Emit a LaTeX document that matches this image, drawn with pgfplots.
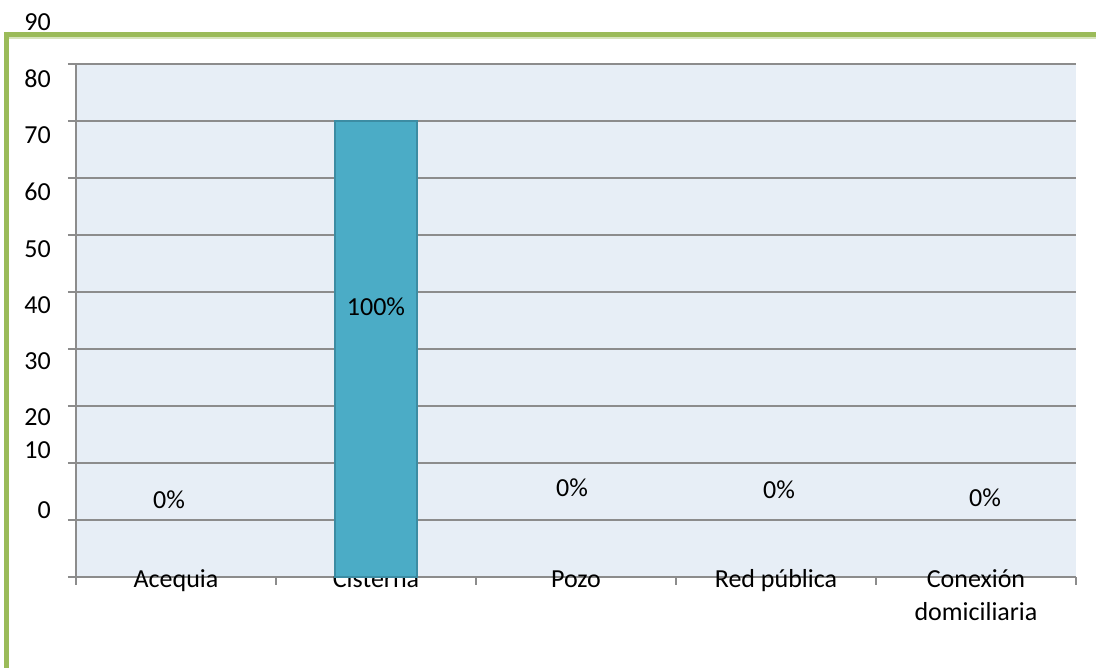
\documentclass[border=0pt]{standalone}
\usepackage{pgfplots}
\pgfplotsset{compat=1.18}
\usepackage{fontspec}
\setmainfont{Carlito}
\definecolor{grn}{RGB}{155,187,89}
\definecolor{grnlt}{RGB}{215,228,189}
\definecolor{plotbg}{RGB}{231,238,246}
\definecolor{barc}{RGB}{75,172,198}
\definecolor{bard}{RGB}{60,140,163}
\definecolor{gridc}{RGB}{140,140,140}

\begin{document}
\fontsize{26}{33}\selectfont
\begin{tikzpicture}
  \path[use as bounding box] (-76pt,-91pt) rectangle (1020pt,577pt);
  \begin{axis}[
      at={(0,0)}, anchor=south west,
      scale only axis, width=1000pt, height=513pt,
      xmin=-0.5, xmax=4.5, ymin=-10, ymax=80,
      clip=false,
      axis x line*=bottom, axis y line*=left,
      axis line style={gridc, line width=1.3pt},
      axis background/.style={fill=plotbg},
      xtick={0,...,4},
      xticklabels={Acequia, Cisterna, Pozo, Red pública,
        {\begin{tabular}[t]{@{}c@{}}Conexión\\domiciliaria\end{tabular}}},
      minor xtick={-0.5,0.5,...,4.5},
      ytick={1.75,12.3,18.1,27.9,37.7,47.5,57.5,67.5,77.5},
      yticklabels={0,10,20,30,40,50,60,70,80},
      minor ytick={-10,0,...,80},
      major tick length=0pt, minor tick length=8pt,
      tick align=outside,
      tick style={gridc, line width=1.3pt},
      yminorgrids,
      minor grid style={gridc, line width=1.3pt},
      yticklabel style={anchor=east, inner sep=0pt, xshift=-25pt},
      xticklabel style={anchor=base, inner sep=0pt, yshift=-11pt},
    ]

    % Cisterna bar, drawn from the bottom of the axis
    \addplot[fill=barc, draw=bard, line width=1.5pt]
      coordinates {(0.795,-10) (0.795,70) (1.205,70) (1.205,-10)} -- cycle;

    % data labels
    \addplot[draw=none, mark=none, nodes near coords, point meta=explicit symbolic,
      nodes near coords style={anchor=center, inner sep=0pt, text=black}]
      coordinates {
        (-0.035,3.5)[0\%] (1,37.5)[100\%] (1.98,5.6)[0\%]
        (3.015,5.3)[0\%] (4.045,3.9)[0\%]
      };

    \node[anchor=east, inner sep=0pt, xshift=-25pt] at (axis cs:-0.5,87.4) {90};
  \end{axis}

  % green frame
  \draw[grnlt, line width=1.5pt] (-67pt,539pt) -- (1020pt,539pt);
  \draw[grn, line width=5pt] (-72pt,542.5pt) -- (1020pt,542.5pt);
  \draw[grn, line width=5pt] (-69.5pt,545pt) -- (-69.5pt,-91pt);
\end{tikzpicture}
\end{document}
